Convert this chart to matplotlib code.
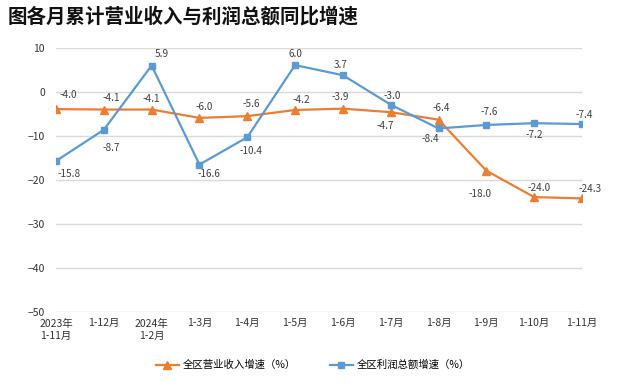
import numpy as np
import matplotlib.pyplot as plt

plt.rcParams['font.family'] = ['Noto Sans CJK SC', 'DejaVu Sans']

periods = ['2023年\n1-11月', '1-12月', '2024年\n1-2月', '1-3月', '1-4月', '1-5月',
           '1-6月', '1-7月', '1-8月', '1-9月', '1-10月', '1-11月']
revenue = [-4.0, -4.1, -4.1, -6.0, -5.6, -4.2, -3.9, -4.7, -6.4, -18.0, -24.0, -24.3]
profit = [-15.8, -8.7, 5.9, -16.6, -10.4, 6.0, 3.7, -3.0, -8.4, -7.6, -7.2, -7.4]
yticks = [10, 0, -10, -20, -30, -40, -50]

# label offsets in pixels (dx, dy), dy positive = up
rev_off = [(12, 14), (7, 12), (0, 11), (5, 11), (4, 12), (6, 10), (-3, 12), (-5, -14),
           (3, 12), (-6, -23), (5, 9), (8, 9)]
pro_off = [(13, -13), (7, -18), (10, 12), (10, -9), (4, -14), (0, 11), (-2, 10), (2, 9),
           (-8, -11), (3, 13), (0, -12), (2, 9)]

orange = '#ED7D31'
blue = '#5B9BD5'

fig = plt.figure(figsize=(6.4, 3.82), dpi=100)
ax = fig.add_axes([56 / 640, 1 - 311.5 / 382, (582 - 56) / 640, 264 / 382])

x = np.arange(len(periods))
ax.plot(x, revenue, color=orange, linewidth=1.6, marker='^', markersize=5.5,
        label='全区营业收入增速（%）', zorder=3)
ax.plot(x, profit, color=blue, linewidth=1.6, marker='s', markersize=5,
        label='全区利润总额增速（%）', zorder=3)

for i, v in enumerate(revenue):
    ax.annotate(f'{v:.1f}', (x[i], v), xytext=rev_off[i], textcoords='offset pixels',
                ha='center', va='center', fontsize=7.2, color='#404040')
for i, v in enumerate(profit):
    ax.annotate(f'{v:.1f}', (x[i], v), xytext=pro_off[i], textcoords='offset pixels',
                ha='center', va='center', fontsize=7.2, color='#404040')

ax.set_xlim(0, len(periods) - 1)
ax.set_ylim(-50, 10)
ax.set_yticks(yticks)
ax.set_xticks(x)
ax.set_xticklabels(periods, fontsize=7.5, color='#333333', linespacing=1.3)
ax.tick_params(axis='y', labelsize=7.5, labelcolor='#333333', length=0, pad=8)
ax.tick_params(axis='x', length=0, pad=5)
ax.yaxis.grid(True, color='#d9d9d9', linewidth=1)
ax.set_axisbelow(True)
for s in ax.spines.values():
    s.set_visible(False)

fig.text(8 / 640, 1 - 17 / 382, '图各月累计营业收入与利润总额同比增速', fontsize=14,
         fontweight='bold', va='center', ha='left', color='#111111')

fig.legend(loc='center', bbox_to_anchor=(313 / 640, 1 - 365 / 382), ncol=2, frameon=False,
           fontsize=7.5, columnspacing=3.2, handlelength=2.2, handletextpad=0.4)

fig.savefig('out.png', dpi=100)
